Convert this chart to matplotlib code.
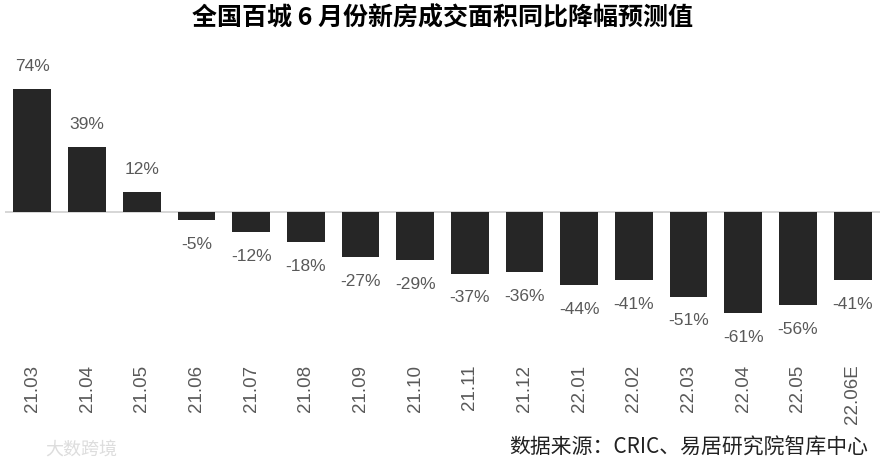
import matplotlib.pyplot as plt

months = ['21.03', '21.04', '21.05', '21.06', '21.07', '21.08', '21.09', '21.10',
          '21.11', '21.12', '22.01', '22.02', '22.03', '22.04', '22.05', '22.06E']
yoy = [74, 39, 12, -5, -12, -18, -27, -29, -37, -36, -44, -41, -51, -61, -56, -41]

num_font = 'Liberation Sans'
cjk = ['Noto Sans CJK SC', 'DejaVu Sans']

W, H = 884, 466
fig = plt.figure(figsize=(W / 100, H / 100), dpi=100)
ax = fig.add_axes([5 / W, 1 - 355 / H, 875 / W, (355 - 40) / H])

x = range(len(months))
ax.bar(x, yoy, width=0.69, color='#262626')
ax.axhline(0, color='#d0d0d0', lw=1.2, zorder=0)

for i, v in enumerate(yoy):
    if v >= 0:
        ax.text(i, v + 9, f'{v}%', ha='center', va='bottom', fontsize=12.5,
                family=num_font, color='#595959')
    else:
        ax.text(i, v - 10, f'{v}%', ha='center', va='top', fontsize=12.5,
                family=num_font, color='#595959')

ax.set_xlim(-0.5, len(months) - 0.5)
ax.set_ylim(-86, 103.6)
ax.set_xticks(list(x))
ax.set_xticklabels(months, rotation=90, fontsize=13.5, family=num_font, color='#595959')
ax.tick_params(axis='x', length=0, pad=7)
ax.set_yticks([])
for s in ax.spines.values():
    s.set_visible(False)

fig.text(0.5, 1 - 18 / H, '全国百城 6 月份新房成交面积同比降幅预测值', ha='center', va='center',
         fontsize=18, fontweight='bold', family=cjk, color='black')
fig.text(868 / W, 1 - 448 / H, '数据来源：CRIC、易居研究院智库中心', ha='right', va='center',
         fontsize=15, family=cjk, color='#222222')
fig.text(45 / W, 1 - 450 / H, '大数跨境', ha='left', va='center',
         fontsize=13, family=cjk, color='#dddddd')

fig.savefig('out.png', dpi=100)
